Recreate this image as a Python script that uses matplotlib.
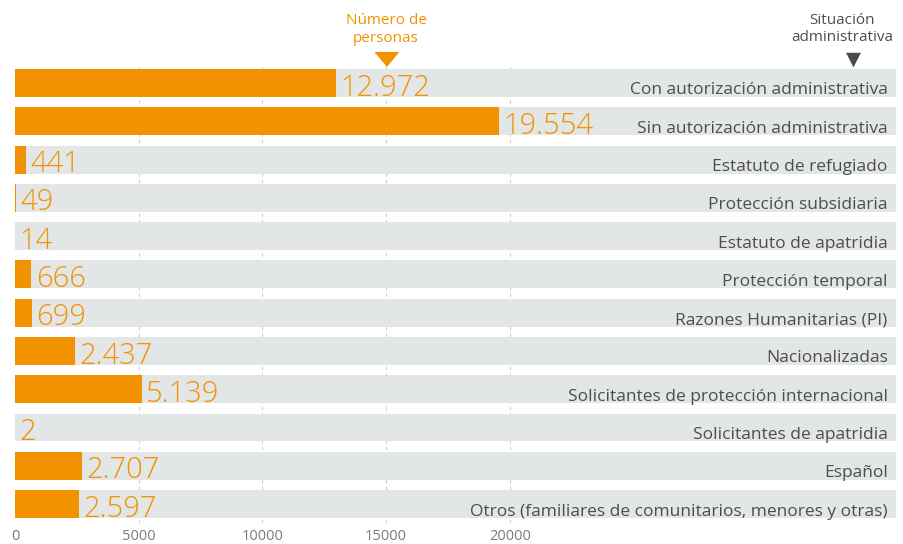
import matplotlib
matplotlib.use("Agg")
import matplotlib.pyplot as plt
import numpy as np

plt.rcParams['font.family'] = ['Open Sans', 'DejaVu Sans']

# data
categorias = ["Con autorización administrativa",
              "Sin autorización administrativa",
              "Estatuto de refugiado",
              "Protección subsidiaria",
              "Estatuto de apatridia",
              "Protección temporal",
              "Razones Humanitarias (PI)",
              "Nacionalizadas",
              "Solicitantes de protección internacional",
              "Solicitantes de apatridia",
              "Español",
              "Otros (familiares de comunitarios, menores y otras)"]
personas = [12972, 19554, 441, 49, 14, 666, 699, 2437, 5139, 2, 2707, 2597]
etiquetas = ["12.972", "19.554", "441", "49", "14", "666", "699", "2.437",
             "5.139", "2", "2.707", "2.597"]
ticks = [0, 5000, 10000, 15000, 20000]

naranja = "#F39200"
gris_barra = "#E3E6E6"
gris_texto = "#4D4D4D"

fig = plt.figure(figsize=(9.04, 5.44), dpi=100)
ax = fig.add_axes([15/904, 0.0382, 881/904, 0.8444])

xmax = 35610
y = np.arange(len(categorias))

# grid behind the bars, only visible in the gaps
for t in ticks[1:]:
    ax.axvline(t, color="#CFCFCF", lw=0.8, ls=(0, (3, 3)), zorder=0)

ax.barh(y, xmax, height=0.73, color=gris_barra, zorder=1)
ax.barh(y, personas, height=0.73, color=naranja, zorder=2)

for i in range(len(categorias)):
    ax.annotate(etiquetas[i], xy=(personas[i], i + 0.33), xytext=(3, 0),
                textcoords="offset points", ha="left", va="baseline",
                fontsize=21, color=naranja, fontweight="light", zorder=3)
    ax.annotate(categorias[i], xy=(1, i + 0.30), xycoords=ax.get_yaxis_transform(),
                xytext=(-6, 0), textcoords="offset points", ha="right",
                va="baseline", fontsize=12.5, color=gris_texto, zorder=3)

ax.set_xlim(0, xmax)
ax.set_ylim(len(categorias) - 0.5, -0.5)
ax.set_xticks(ticks)
ax.set_xticklabels([str(t) for t in ticks])
ax.set_yticks([])
ax.tick_params(axis="x", length=0, pad=4, labelsize=10.5, labelcolor="#7A7A7A")
for s in ax.spines.values():
    s.set_visible(False)

# headers
tri = [(-1, 0.6), (1, 0.6), (0, -0.6)]
ax.plot([15000], [-0.62], marker=tri, markersize=16.5, color=naranja,
        clip_on=False, zorder=4)
ax.text(15000, -1.4, "Número de\npersonas", ha="center", va="center",
        fontsize=11, color=naranja, linespacing=1.2)

fig.text(853/904, 1 - 59/544, "\u25BC", ha="center", va="center",
         fontsize=14, color="#4A4A4A", family="DejaVu Sans")
fig.text(842/904, 1 - 29/544, "Situación\nadministrativa", ha="center",
         va="center", fontsize=11, color=gris_texto, linespacing=1.2)

fig.savefig("out.png", dpi=100)
